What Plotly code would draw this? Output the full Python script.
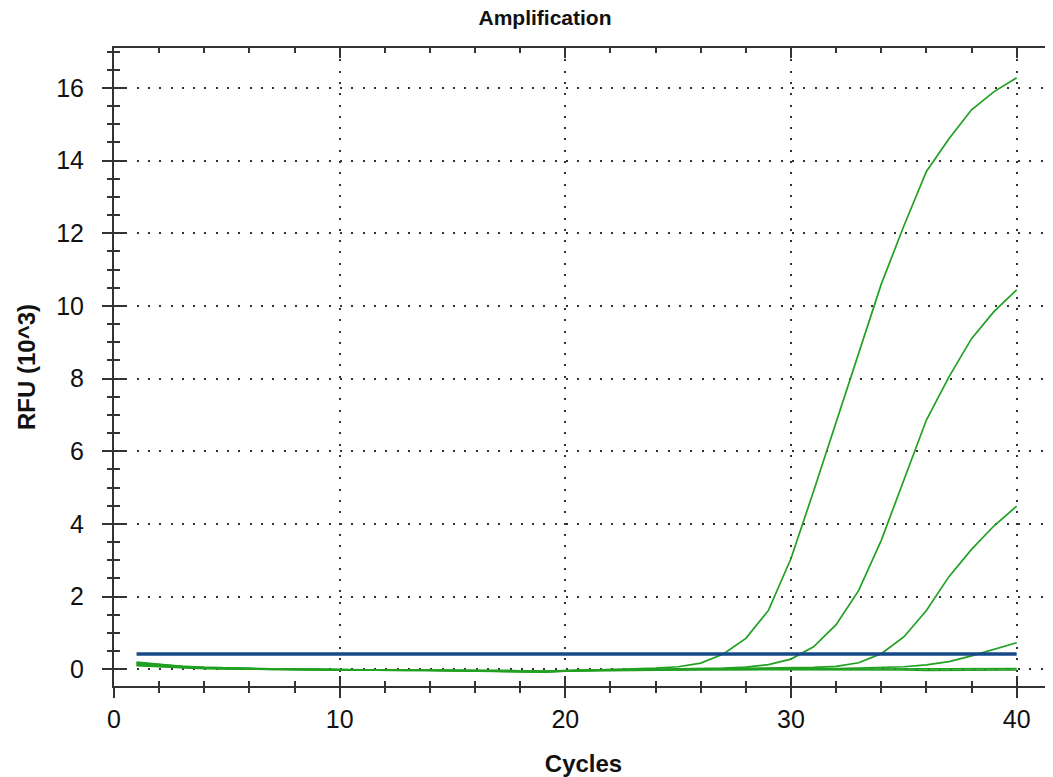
import plotly.graph_objects as go

cycles = list(range(1, 41))

rfu_a = [0.18, 0.12, 0.08, 0.05, 0.03, 0.02, 0.01, 0.01, 0.00, -0.01,
         -0.01, -0.02, -0.02, -0.02, -0.02, -0.03, -0.03, -0.04, -0.06, -0.03,
         -0.02, -0.01, 0.00, 0.03, 0.07, 0.17, 0.42, 0.85, 1.62, 3.05,
         4.90, 6.80, 8.70, 10.60, 12.20, 13.70, 14.60, 15.40, 15.90, 16.28]
rfu_b = [0.20, 0.13, 0.08, 0.05, 0.03, 0.02, 0.01, 0.00, -0.01, -0.01,
         -0.02, -0.02, -0.02, -0.03, -0.03, -0.04, -0.05, -0.06, -0.07, -0.04,
         -0.02, -0.01, -0.01, 0.00, 0.00, 0.01, 0.03, 0.06, 0.13, 0.28,
         0.62, 1.23, 2.17, 3.55, 5.20, 6.86, 8.05, 9.10, 9.85, 10.44]
rfu_c = [0.16, 0.11, 0.07, 0.04, 0.02, 0.01, 0.00, 0.00, -0.01, -0.02,
         -0.02, -0.02, -0.03, -0.03, -0.03, -0.03, -0.04, -0.05, -0.06, -0.04,
         -0.03, -0.02, -0.02, -0.01, -0.01, 0.00, 0.00, 0.01, 0.02, 0.03,
         0.05, 0.08, 0.18, 0.43, 0.89, 1.62, 2.55, 3.30, 3.95, 4.49]
rfu_d = [0.14, 0.10, 0.06, 0.04, 0.02, 0.01, 0.00, -0.01, -0.01, -0.02,
         -0.02, -0.02, -0.02, -0.03, -0.03, -0.03, -0.04, -0.04, -0.05, -0.03,
         -0.02, -0.02, -0.01, -0.01, -0.01, 0.00, 0.00, 0.00, 0.01, 0.01,
         0.02, 0.02, 0.03, 0.04, 0.07, 0.12, 0.21, 0.37, 0.56, 0.73]
rfu_n1 = [0.12, 0.08, 0.05, 0.03, 0.02, 0.01, 0.00, -0.01, -0.01, -0.02,
          -0.02, -0.02, -0.03, -0.03, -0.03, -0.04, -0.05, -0.06, -0.07, -0.05,
          -0.03, -0.02, -0.02, -0.01, -0.01, -0.01, 0.00, 0.00, 0.00, 0.00,
          0.00, 0.00, 0.01, 0.01, 0.01, 0.01, 0.01, 0.02, 0.02, 0.02]
rfu_n2 = [0.10, 0.07, 0.04, 0.02, 0.01, 0.00, -0.01, -0.01, -0.02, -0.02,
          -0.03, -0.03, -0.03, -0.03, -0.04, -0.04, -0.05, -0.07, -0.08, -0.05,
          -0.04, -0.03, -0.02, -0.02, -0.01, -0.01, -0.01, -0.01, 0.00, 0.00,
          0.00, -0.01, -0.01, -0.02, -0.02, -0.03, -0.03, -0.04, -0.03, -0.02]
series = [rfu_n2, rfu_n1, rfu_d, rfu_c, rfu_b, rfu_a]

threshold_x = [1, 40]
threshold_y = [0.42, 0.42]

x_ticks = [0, 10, 20, 30, 40]
y_ticks = [0, 2, 4, 6, 8, 10, 12, 14, 16]

GREEN = "#22a022"
NAVY = "#16488a"
AXIS = "#333333"
FONT = "Liberation Sans, Arial, sans-serif"

# the page body has an 8px margin, so the figure is sized to fill the rest
W, H = 1045, 769

fig = go.Figure()
for s in series:
    fig.add_trace(go.Scatter(x=cycles, y=s, mode="lines",
                             line=dict(color=GREEN, width=1.7),
                             showlegend=False, hoverinfo="skip"))
fig.add_trace(go.Scatter(x=threshold_x, y=threshold_y, mode="lines",
                         line=dict(color=NAVY, width=3.5),
                         showlegend=False, hoverinfo="skip"))
# helper traces so the overlaid tick axes are drawn
fig.add_trace(go.Scatter(x=[], y=[], xaxis="x2", yaxis="y2", showlegend=False))
fig.add_trace(go.Scatter(x=[], y=[], xaxis="x", yaxis="y3", showlegend=False))

xr = [0, 41.61]
yr = [-0.46, 17.10]
grid_dash = "2px,9.3px"

fig.update_layout(
    width=W, height=H,
    margin=dict(l=106, r=0, t=40, b=91),
    paper_bgcolor="white", plot_bgcolor="white",
    font=dict(family=FONT, color="#111111"),
    title=dict(text="<b>Amplification</b>", font=dict(size=21, family=FONT, color="#111111"),
               x=537 / W, xref="container", xanchor="center",
               y=1 - 2 / H, yref="container", yanchor="top", pad=dict(t=0, b=0)),
    xaxis=dict(range=xr, tickmode="array", tickvals=x_ticks, ticktext=[str(v) for v in x_ticks],
               ticks="outside", ticklen=10, tickwidth=2, tickcolor=AXIS,
               showline=True, linecolor=AXIS, linewidth=2,
               showgrid=True, gridcolor="#333333", gridwidth=1.6, griddash=grid_dash,
               zeroline=False, tickfont=dict(size=25, family=FONT, color="#111111"),
               ticklabelstandoff=0,
               minor=dict(dtick=2, ticks="outside", ticklen=5, tickwidth=1.6, tickcolor=AXIS, showgrid=False),
               title=dict(text="<b>Cycles</b>", font=dict(size=24, family=FONT, color="#111111"), standoff=23)),
    # labelled y axis (no ticks of its own)
    yaxis=dict(range=yr, tickmode="array", tickvals=y_ticks, ticktext=[str(v) for v in y_ticks],
               ticks="", showline=True, linecolor=AXIS, linewidth=2,
               showgrid=True, gridcolor="#333333", gridwidth=1.6, griddash=grid_dash,
               zeroline=False, tickfont=dict(size=25, family=FONT, color="#111111"),
               ticklabelstandoff=23,
               title=dict(text="<b>RFU (10^3)</b>", font=dict(size=24, family=FONT, color="#111111"), standoff=14)),
    # outside half of the crossing y ticks
    yaxis3=dict(range=yr, overlaying="y", anchor="x", side="left",
                tickmode="array", tickvals=y_ticks, showticklabels=False,
                ticks="outside", ticklen=11, tickwidth=2, tickcolor=AXIS,
                showline=False, showgrid=False, zeroline=False,
                minor=dict(dtick=0.5, ticks="outside", ticklen=6, tickwidth=1.6, tickcolor=AXIS, showgrid=False)),
    xaxis2=dict(range=xr, overlaying="x", anchor="y2", side="bottom",
                tickmode="array", tickvals=x_ticks, showticklabels=False,
                ticks="inside", ticklen=10, tickwidth=2, tickcolor=AXIS,
                showline=True, linecolor=AXIS, linewidth=2, mirror="ticks",
                showgrid=False, zeroline=False,
                minor=dict(dtick=2, ticks="inside", ticklen=5, tickwidth=1.6, tickcolor=AXIS, showgrid=False)),
    yaxis2=dict(range=yr, overlaying="y", anchor="x2", side="left",
                tickmode="array", tickvals=y_ticks, showticklabels=False,
                ticks="inside", ticklen=11, tickwidth=2, tickcolor=AXIS,
                showline=True, linecolor=AXIS, linewidth=2,
                showgrid=False, zeroline=False,
                minor=dict(dtick=0.5, ticks="inside", ticklen=6, tickwidth=1.6, tickcolor=AXIS, showgrid=False)),
)

fig.write_html("out.html")
